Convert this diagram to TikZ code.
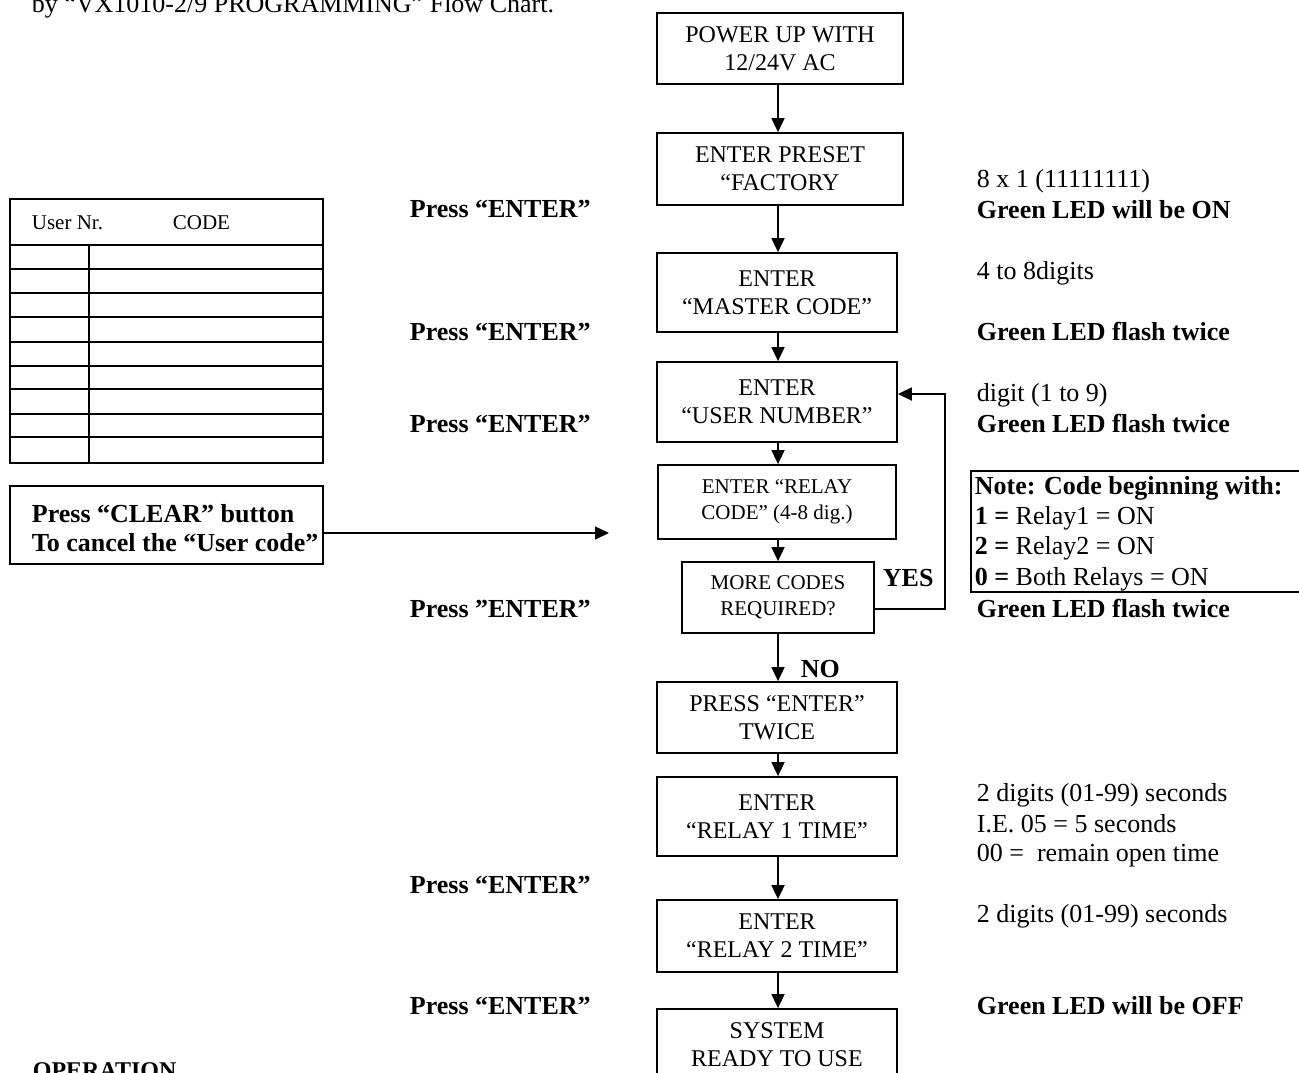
\documentclass[tikz,border=0pt]{standalone}
\usepackage{fontspec}
\setmainfont{Liberation Serif}
\usetikzlibrary{arrows.meta}
\begin{document}
\begin{tikzpicture}[x=1pt,y=-1pt,line width=1.8pt,
  box/.style={draw,line width=1.8pt,inner sep=0pt,align=center,font=\fontsize{24}{28}\selectfont},
  sbox/.style={box,font=\fontsize{21}{26}\selectfont},
  txt/.style={anchor=base west,inner sep=0pt,font=\fontsize{26}{30}\selectfont},
  btxt/.style={txt,font=\fontsize{26}{30}\selectfont\bfseries},
  htxt/.style={txt,font=\fontsize{21}{25}\selectfont},
  arr/.style={-{Triangle[length=14pt,width=13pt]},line width=1.8pt},
  frame/.style={draw,line width=1.8pt,inner sep=0pt,anchor=north west}]
\useasboundingbox (0,0) rectangle (1299,1072);
\fill[white] (0,0) rectangle (1299,1072);

% title and footer
\node[txt] (title) at (31,12) {by “VX1010-2/9 PROGRAMMING” Flow Chart.};
\node[txt,font=\fontsize{24}{28}\selectfont\bfseries] (oper) at (32,1078) {OPERATION};

% flow chart boxes
\node[box,minimum width=246pt,minimum height=71pt] (b1) at (780,48.5) {POWER UP WITH\\12/24V AC};
\node[box,minimum width=246pt,minimum height=72pt] (b2) at (780,169) {ENTER PRESET\\“FACTORY};
\node[box,minimum width=240pt,minimum height=79pt] (b3) at (777,292.5) {ENTER\\“MASTER CODE”};
\node[box,minimum width=240pt,minimum height=80pt] (b4) at (777,402) {ENTER\\“USER NUMBER”};
\node[sbox,minimum width=238pt,minimum height=74pt] (b5) at (777,502) {ENTER “RELAY\\CODE” (4-8 dig.)};
\node[sbox,minimum width=192pt,minimum height=71pt] (b6) at (778,597.5) {MORE CODES\\REQUIRED?};
\node[box,minimum width=240pt,minimum height=71pt] (b7) at (777,717.5) {PRESS “ENTER”\\TWICE};
\node[box,minimum width=240pt,minimum height=79pt] (b8) at (777,816.5) {ENTER\\“RELAY 1 TIME”};
\node[box,minimum width=240pt,minimum height=72pt] (b9) at (777,936) {ENTER\\“RELAY 2 TIME”};
\node[box,minimum width=240pt,minimum height=72pt] (b10) at (777,1045) {SYSTEM\\READY TO USE};

% vertical connectors
\coordinate (col) at (778,0);
\draw[arr] (b1.south -| col) -- (b2.north -| col);
\draw[arr] (b2.south -| col) -- (b3.north -| col);
\draw[arr] (b3.south -| col) -- (b4.north -| col);
\draw[arr] (b4.south -| col) -- (b5.north -| col);
\draw[arr] (b5.south -| col) -- (b6.north -| col);
\draw[arr] (b6.south -| col) -- (b7.north -| col);
\draw[arr] (b7.south -| col) -- (b8.north -| col);
\draw[arr] (b8.south -| col) -- (b9.north -| col);
\draw[arr] (b9.south -| col) -- (b10.north -| col);

% loop back (YES)
\coordinate (lp1) at (945,609);
\coordinate (lp2) at (945,394);
\draw[arr] (b6.east |- lp1) -- (lp1) -- (lp2) -- (b4.east |- lp2);
\node[btxt] (yes) at (882,586) {YES};
\node[btxt] (no) at (800,677) {NO};

% left labels
\node[btxt] (p1) at (409,217) {Press “ENTER”};
\node[btxt] (p2) at (409,340) {Press “ENTER”};
\node[btxt] (p3) at (409,432) {Press “ENTER”};
\node[btxt] (p4) at (409,617) {Press ”ENTER”};
\node[btxt] (p5) at (409,893) {Press “ENTER”};
\node[btxt] (p6) at (409,1014) {Press “ENTER”};

% right texts
\node[txt] (r1) at (976,187) {8 x 1 (11111111)};
\node[btxt] (r2) at (976,218) {Green LED will be ON};
\node[txt] (r3) at (976,279) {4 to 8digits};
\node[btxt] (r4) at (976,340) {Green LED flash twice};
\node[txt] (r5) at (976,401) {digit (1 to 9)};
\node[btxt] (r6) at (976,432) {Green LED flash twice};
\node[btxt] (r7) at (976,617) {Green LED flash twice};
\node[txt] (r8) at (976,801) {2 digits (01-99) seconds};
\node[txt] (r9) at (976,832) {I.E. 05 = 5 seconds};
\node[txt] (r10) at (976,861) {00 = \ remain open time};
\node[txt] (r11) at (976,922) {2 digits (01-99) seconds};
\node[btxt] (r12) at (976,1014) {Green LED will be OFF};

% note box
\node[frame,minimum width=340pt,minimum height=121pt] (note) at (970,470) {};
\node[btxt] (n1) at (974,494) {Note: Code beginning with:};
\node[txt] (n2) at (974,524) {\textbf{1 =} Relay1 = ON};
\node[txt] (n3) at (974,554) {\textbf{2 =} Relay2 = ON};
\node[txt] (n4) at (974,585) {\textbf{0 =} Both Relays = ON};

% user table
\node[frame,minimum width=313pt,minimum height=264pt] (tbl) at (9,198) {};
\draw (9,245) -- (322,245);
\foreach \yy in {269,293,317,342,366,389,414,437} \draw (9,\yy) -- (322,\yy);
\draw (89,245) -- (89,462);
\node[htxt] (hUser) at (31,229) {User Nr.};
\node[htxt] (hCode) at (172,229) {CODE};

% clear box
\node[frame,minimum width=313pt,minimum height=78pt] (clear) at (9,485) {};
\node[btxt] (c1) at (31,522) {Press “CLEAR” button};
\node[btxt] (c2) at (31,551) {To cancel the “User code”};
\coordinate (clrend) at (609,533);
\draw[arr,line width=1.4pt] (clear.east |- clrend) -- (clrend);
\end{tikzpicture}
\end{document}
